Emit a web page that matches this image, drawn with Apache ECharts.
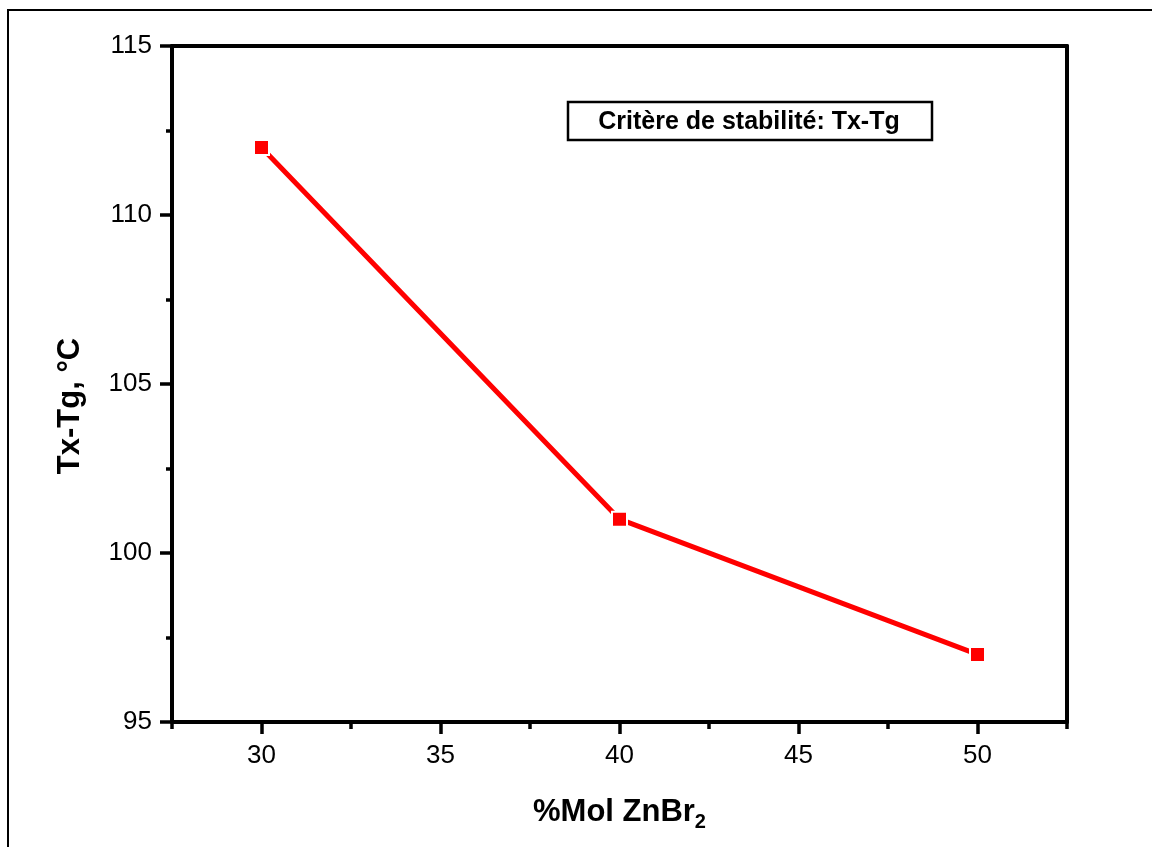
<!DOCTYPE html>
<html>
<head>
<meta charset="utf-8">
<script src="https://cdn.jsdelivr.net/npm/echarts@6/dist/echarts.min.js"></script>
<style>html,body{margin:0;padding:0;background:#fff}#c{width:1152px;height:847px}</style>
</head>
<body>
<div id="c"></div>
<script>
const xValues = [30, 40, 50];
const yValues = [112, 101, 97];
const xTickSlots = ['27.5', '30', '32.5', '35', '37.5', '40', '42.5', '45', '47.5', '50', '52.5'];
const xTickLabels = ['30', '35', '40', '45', '50'];
const seriesName = 'Critère de stabilité: Tx-Tg';
const xTitle = '%Mol ZnBr{sub|2}';
const yTitle = 'Tx-Tg, °C';

const chart = echarts.init(document.getElementById('c'));
const font = '"Liberation Sans", Arial, sans-serif';
const axisLine = {show: true, lineStyle: {color: '#000', width: 4}};
const isMajor = (i, v) => xTickLabels.indexOf(String(v)) >= 0 || xTickLabels.indexOf(xTickSlots[i]) >= 0;
chart.setOption({
  animation: false,
  backgroundColor: '#fff',
  grid: {left: 172, right: 85, top: 46, bottom: 125, containLabel: false},
  xAxis: [
    {
      type: 'value', min: 27.5, max: 52.5, position: 'bottom',
      axisLine: axisLine, axisTick: {show: false}, axisLabel: {show: false}, splitLine: {show: false},
      name: xTitle, nameLocation: 'middle', nameGap: 70,
      nameTextStyle: {color: '#000', fontSize: 31, fontWeight: 'bold', fontFamily: font,
        rich: {sub: {fontSize: 20, fontWeight: 'bold', fontFamily: font, verticalAlign: 'bottom', padding: [20, 0, 0, 0]}}}
    },
    {
      type: 'category', data: xTickSlots, boundaryGap: false, position: 'bottom',
      axisLine: {show: false},
      axisTick: {show: true, interval: (i) => i % 2 === 1, length: 12, lineStyle: {width: 3.5, color: '#000'}},
      axisLabel: {show: true, interval: (i) => i % 2 === 1, margin: 21, color: '#000', fontSize: 26, fontFamily: font},
      splitLine: {show: false}
    },
    {
      type: 'category', data: xTickSlots, boundaryGap: false, position: 'bottom',
      axisLine: {show: false},
      axisTick: {show: true, interval: 0, length: 7, lineStyle: {width: 3.5, color: '#000'}},
      axisLabel: {show: false}, splitLine: {show: false}
    },
    {
      type: 'value', min: 27.5, max: 52.5, position: 'top',
      axisLine: axisLine, axisTick: {show: false}, axisLabel: {show: false}, splitLine: {show: false}
    }
  ],
  yAxis: [
    {
      type: 'value', min: 95, max: 115, interval: 5, position: 'left',
      axisLine: axisLine,
      axisTick: {show: true, length: 12, lineStyle: {width: 3.5, color: '#000'}},
      minorTick: {show: true, splitNumber: 2, length: 6, lineStyle: {width: 3.5, color: '#000'}},
      axisLabel: {margin: 20, color: '#000', fontSize: 26, fontFamily: font},
      splitLine: {show: false}, minorSplitLine: {show: false},
      name: yTitle, nameLocation: 'middle', nameGap: 86,
      nameTextStyle: {color: '#000', fontSize: 31, fontWeight: 'bold', fontFamily: font, padding: [0, 44, 0, 0]}
    },
    {
      type: 'value', min: 95, max: 115, interval: 5, position: 'right',
      axisLine: axisLine, axisTick: {show: false}, axisLabel: {show: false}, splitLine: {show: false}
    }
  ],
  series: [{
    name: seriesName,
    type: 'line',
    xAxisIndex: 0, yAxisIndex: 0,
    data: xValues.map((x, i) => [x, yValues[i]]),
    symbol: 'rect', symbolSize: 15, showSymbol: true,
    lineStyle: {color: '#ff0000', width: 5},
    itemStyle: {color: '#ff0000', borderColor: '#fff', borderWidth: 2}
  }],
  graphic: [
    {type: 'rect', shape: {x: 8, y: 10, width: 1170, height: 870}, style: {fill: 'none', stroke: '#000', lineWidth: 2}, silent: true},
    {type: 'rect', shape: {x: 568, y: 102, width: 364, height: 38}, style: {fill: '#fff', stroke: '#000', lineWidth: 2.5}, z: 10},
    {type: 'text', x: 749, y: 122, z: 11, style: {text: seriesName, fill: '#000', font: 'bold 25px "Liberation Sans", Arial, sans-serif', align: 'center', verticalAlign: 'middle'}}
  ]
});
</script>
</body>
</html>
